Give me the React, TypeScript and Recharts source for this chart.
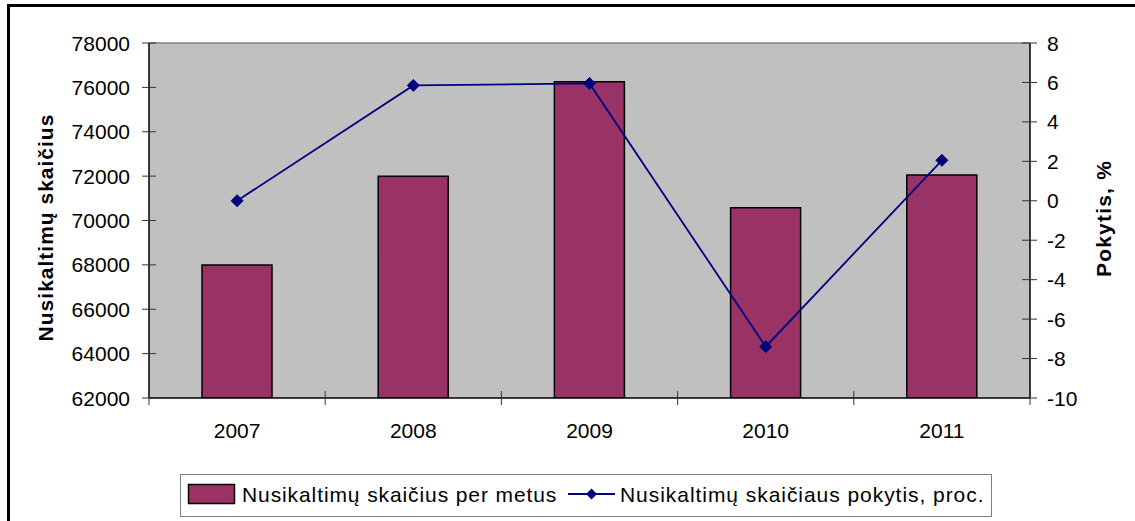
import React from 'react';
import { ComposedChart, Bar, Line, XAxis, YAxis, CartesianGrid, Legend, ReferenceLine, Label } from 'recharts';

const years = ['2007', '2008', '2009', '2010', '2011'];
const crimeCounts = [68000, 72000, 76250, 70580, 72050];
const changePct = [0, 5.85, 5.95, -7.4, 2.05];
const leftTicks = [62000, 64000, 66000, 68000, 70000, 72000, 74000, 76000, 78000];
const rightTicks = [-10, -8, -6, -4, -2, 0, 2, 4, 6, 8];
const barName = 'Nusikaltimų skaičius per metus';
const lineName = 'Nusikaltimų skaičiaus pokytis, proc.';
const leftTitle = 'Nusikaltimų skaičius';
const rightTitle = 'Pokytis, %';

const data = years.map((y, i) => ({ year: y, count: crimeCounts[i], change: changePct[i] }));

const W = 1135;
const H = 521;
const LEFT_W = 149;
const RIGHT_W = 105;
const PLOT_W = W - LEFT_W - RIGHT_W;
const FONT = '"Liberation Sans", Arial, sans-serif';
const BAR_COLOR = '#993366';
const LINE_COLOR = '#000080';
const TICK_COLOR = '#333333';

const LeftTick = (props: any) => {
  const { x, y, payload } = props;
  return (
    <g>
      <line x1={x - 7} x2={x + 7} y1={y} y2={y} stroke={TICK_COLOR} strokeWidth={1} />
      <text x={x - 19} y={y} textAnchor="end" dominantBaseline="central" fontSize={21} fontFamily={FONT} fill="#000">
        {payload.value}
      </text>
    </g>
  );
};

const RightTick = (props: any) => {
  const { x, y, payload } = props;
  return (
    <g>
      <line x1={x - 8} x2={x + 7} y1={y} y2={y} stroke={TICK_COLOR} strokeWidth={1} />
      <text x={x + 17} y={y} textAnchor="start" dominantBaseline="central" fontSize={21} fontFamily={FONT} fill="#000">
        {payload.value}
      </text>
    </g>
  );
};

const XTick = (props: any) => {
  const { x, y, payload, index, visibleTicksCount } = props;
  const half = payload && typeof payload.offset === 'number' && payload.offset > 0 ? payload.offset : PLOT_W / years.length / 2;
  const last = index === (visibleTicksCount ?? years.length) - 1;
  return (
    <g>
      <line x1={x - half} x2={x - half} y1={y - 7} y2={y + 7} stroke={TICK_COLOR} strokeWidth={1} />
      {last && <line x1={x + half} x2={x + half} y1={y - 7} y2={y + 7} stroke={TICK_COLOR} strokeWidth={1} />}
      <text x={x} y={y + 32} textAnchor="middle" dominantBaseline="central" fontSize={21} fontFamily={FONT} fill="#000">
        {payload.value}
      </text>
    </g>
  );
};

const Diamond = (props: any) => {
  const { cx, cy } = props;
  if (cx == null || cy == null) return null;
  const r = 6;
  return (
    <polygon
      points={`${cx},${cy - r} ${cx + r},${cy} ${cx},${cy + r} ${cx - r},${cy}`}
      fill={LINE_COLOR}
      stroke={LINE_COLOR}
      strokeWidth={1}
    />
  );
};

const leftTitleRenderer = (props: any) => {
  const vb = props.viewBox || { x: 0, y: 43, width: LEFT_W, height: 355 };
  const cx = vb.x + 45;
  const cy = vb.y + vb.height / 2 + 7;
  return (
    <text
      x={cx}
      y={cy}
      transform={`rotate(-90, ${cx}, ${cy})`}
      textAnchor="middle"
      dominantBaseline="central"
      fontSize={21}
      fontWeight="bold"
      letterSpacing={1}
      fontFamily={FONT}
      fill="#000"
    >
      {leftTitle}
    </text>
  );
};

const rightTitleRenderer = (props: any) => {
  const vb = props.viewBox || { x: W - RIGHT_W, y: 43, width: RIGHT_W, height: 355 };
  const cx = vb.x + 73;
  const cy = vb.y + vb.height / 2 - 2;
  return (
    <text
      x={cx}
      y={cy}
      transform={`rotate(-90, ${cx}, ${cy})`}
      textAnchor="middle"
      dominantBaseline="central"
      fontSize={21}
      fontWeight="bold"
      letterSpacing={1.2}
      fontFamily={FONT}
      fill="#000"
    >
      {rightTitle}
    </text>
  );
};

const renderLegend = (props: any) => {
  const payload = props.payload || [];
  const barItem = payload.find((p: any) => p.dataKey === 'count');
  const lineItem = payload.find((p: any) => p.dataKey === 'change');
  const d = 5.5;
  const lx = 411.5;
  const ly = 20;
  return (
    <svg width={812} height={43} style={{ display: 'block' }}>
      <rect x={0.5} y={0.5} width={811} height={42} fill="#fff" stroke="#808080" strokeWidth={1} />
      <rect x={8.5} y={10.5} width={46} height={19} fill={BAR_COLOR} stroke="#000" strokeWidth={1.5} />
      <text x={62} y={20} dominantBaseline="central" fontSize={21} letterSpacing={0.9} fontFamily={FONT} fill="#000">
        {barItem ? barItem.value : barName}
      </text>
      <line x1={388} x2={435} y1={ly} y2={ly} stroke={LINE_COLOR} strokeWidth={1.8} />
      <polygon points={`${lx},${ly - d} ${lx + d},${ly} ${lx},${ly + d} ${lx - d},${ly}`} fill={LINE_COLOR} />
      <text x={440} y={20} dominantBaseline="central" fontSize={21} letterSpacing={0.95} fontFamily={FONT} fill="#000">
        {lineItem ? lineItem.value : lineName}
      </text>
    </svg>
  );
};

export default function App() {
  return (
    <div style={{ position: 'absolute', left: 0, top: 0, width: W, height: H, overflow: 'hidden', background: '#fff' }}>
      <div
        style={{
          position: 'absolute',
          left: 7,
          top: 4,
          width: 2000,
          height: 2000,
          border: '3px solid #000',
          boxSizing: 'border-box',
        }}
      />
      <div style={{ position: 'absolute', left: 0, top: 0 }}>
        <ComposedChart width={W} height={H} data={data} margin={{ top: 43, right: 0, bottom: 63, left: 0 }} barSize={70}>
          <CartesianGrid yAxisId="left" horizontal={false} vertical={false} fill="#C0C0C0" fillOpacity={1} stroke="none" />
          <XAxis
            dataKey="year"
            height={60}
            tickSize={0}
            tickMargin={0}
            tickLine={false}
            axisLine={{ stroke: '#000', strokeWidth: 1.5 }}
            tick={<XTick />}
            interval={0}
          />
          <YAxis
            yAxisId="left"
            orientation="left"
            width={LEFT_W}
            domain={[62000, 78000]}
            ticks={leftTicks}
            allowDataOverflow
            tickSize={0}
            tickMargin={0}
            tickLine={false}
            axisLine={{ stroke: '#000', strokeWidth: 1.5 }}
            tick={<LeftTick />}
            interval={0}
          >
            <Label content={leftTitleRenderer} />
          </YAxis>
          <YAxis
            yAxisId="right"
            orientation="right"
            width={RIGHT_W}
            domain={[-10, 8]}
            ticks={rightTicks}
            allowDataOverflow
            tickSize={0}
            tickMargin={0}
            tickLine={false}
            axisLine={{ stroke: '#000', strokeWidth: 1.5 }}
            tick={<RightTick />}
            interval={0}
          >
            <Label content={rightTitleRenderer} />
          </YAxis>
          <ReferenceLine yAxisId="left" y={78000} stroke="#808080" strokeWidth={1.5} />
          <Bar
            yAxisId="left"
            dataKey="count"
            name={barName}
            fill={BAR_COLOR}
            stroke="#000"
            strokeWidth={1.5}
            isAnimationActive={false}
          />
          <Line
            yAxisId="right"
            dataKey="change"
            name={lineName}
            type="linear"
            stroke={LINE_COLOR}
            strokeWidth={1.8}
            dot={<Diamond />}
            activeDot={false}
            isAnimationActive={false}
          />
          <Legend
            layout="horizontal"
            verticalAlign="middle"
            align="center"
            content={renderLegend}
            wrapperStyle={{ left: 180, top: 474, width: 812, height: 43 }}
          />
        </ComposedChart>
      </div>
    </div>
  );
}
